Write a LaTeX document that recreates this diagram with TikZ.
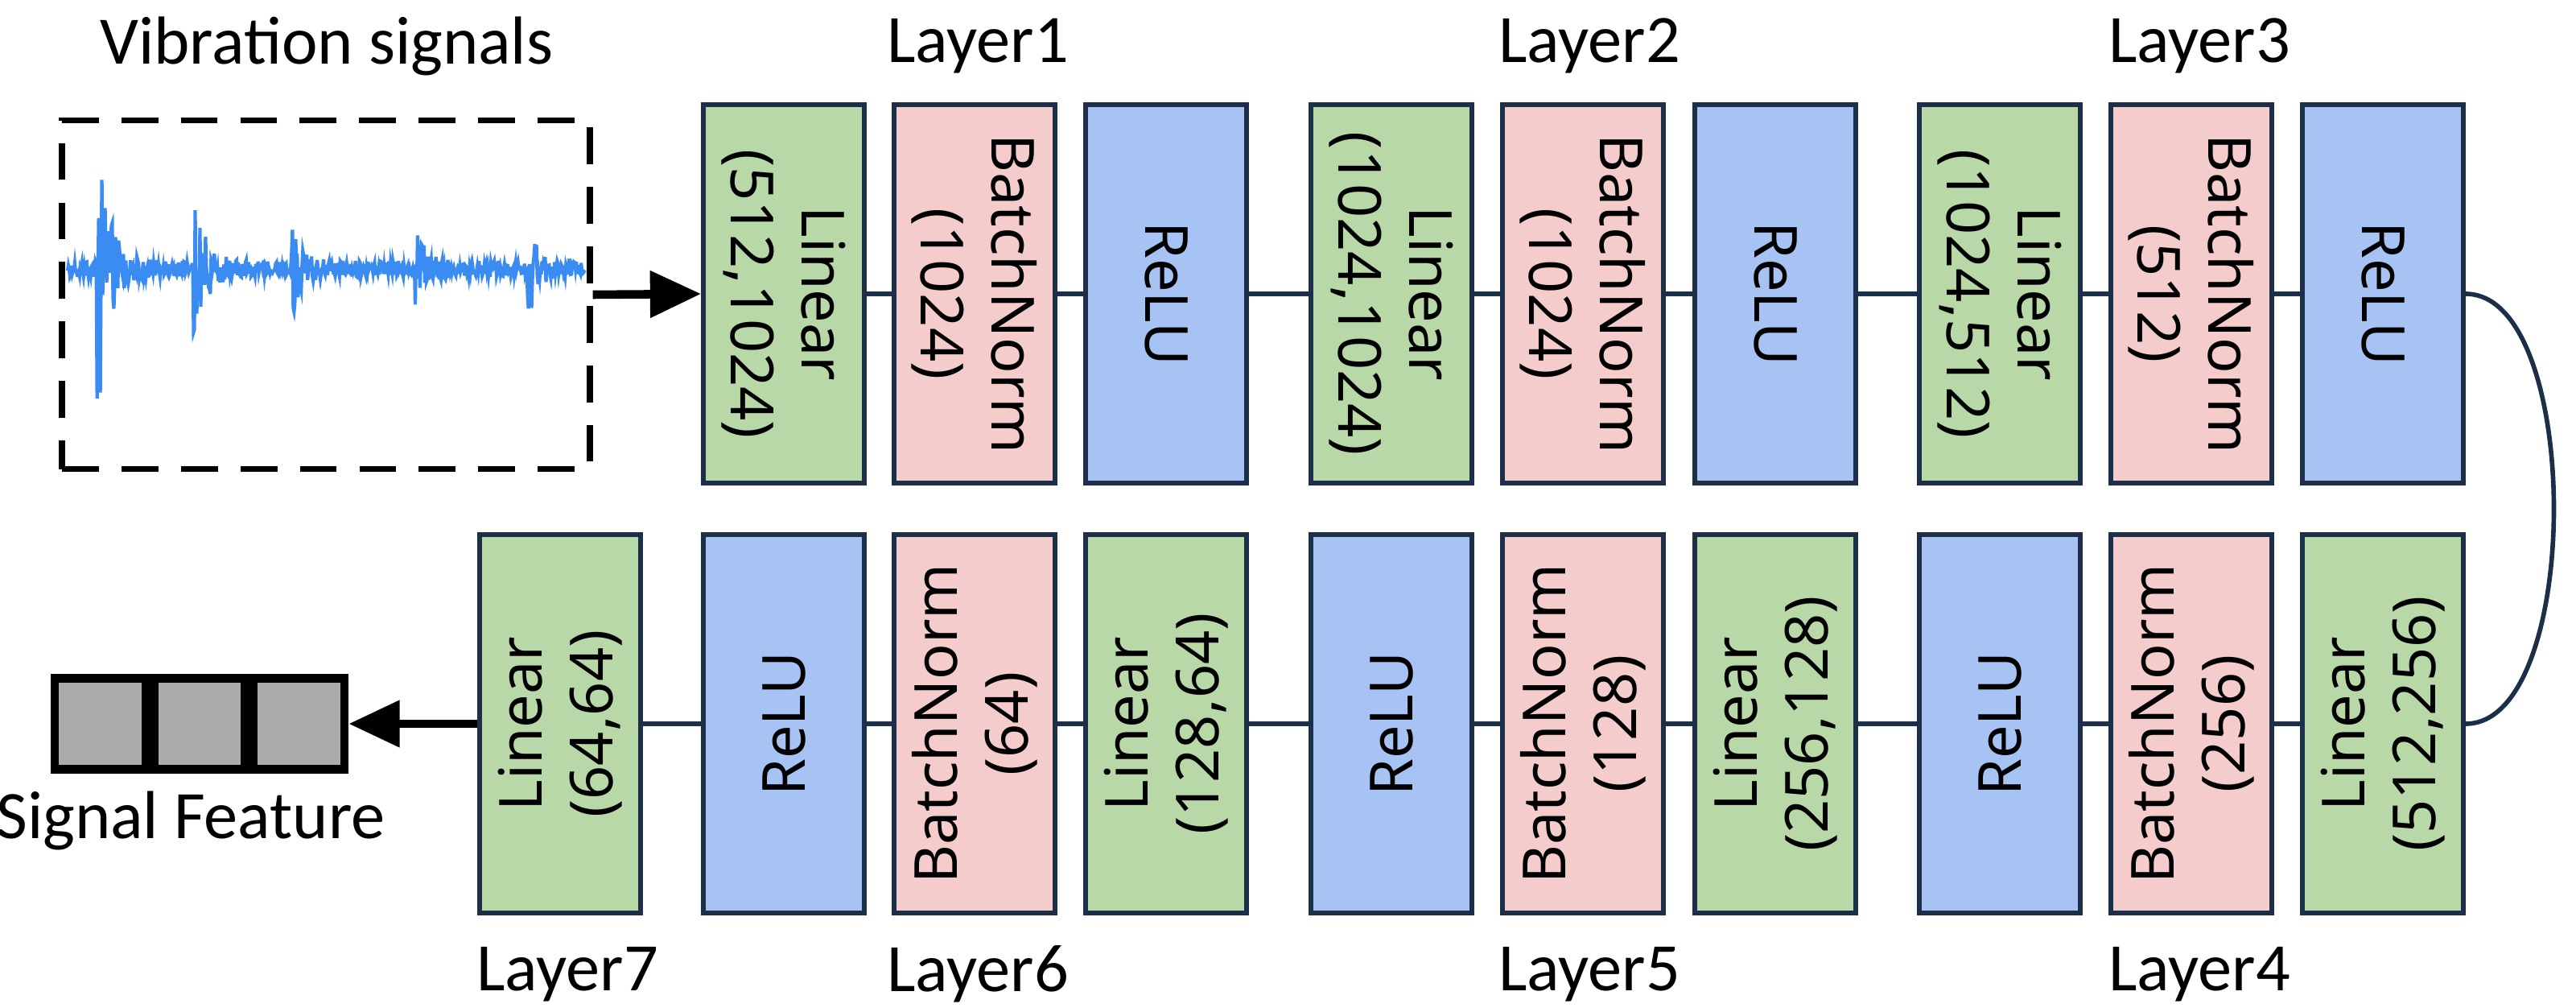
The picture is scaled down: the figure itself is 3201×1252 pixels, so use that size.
\documentclass[tikz,border=0pt]{standalone}
\usepackage{fontspec}
\setmainfont{Noto Sans}
\newfontfamily\lblfont{Carlito}
\usetikzlibrary{arrows.meta}
\definecolor{lin}{HTML}{B8D8A8}
\definecolor{bn}{HTML}{F3CCCB}
\definecolor{act}{HTML}{A6C3F3}
\definecolor{edge}{HTML}{1C2E48}
\definecolor{wave}{HTML}{3A8BF2}
\begin{document}
\begin{tikzpicture}
[x=0.01cm,y=-0.01cm,font=\fontsize{21}{25}\selectfont,
every node/.style={draw=edge,line width=1.6pt,minimum width=4.7cm,minimum height=2cm,inner sep=0pt,align=center},
up/.style={rotate=-90},
dn/.style={rotate=90},
lbl/.style={draw=none,minimum width=0pt,minimum height=0pt,font=\lblfont\fontsize{24}{28}\selectfont}]
\useasboundingbox (0,0) rectangle (3201,1252);
% top row
\node[fill=lin,up] (l1a) at (974,365) {Linear\\(512,1024)};
\node[fill=bn,up] (l1b) at (1211,365) {BatchNorm\\(1024)};
\node[fill=act,up] (l1c) at (1449,365) {ReLU};
\node[fill=lin,up] (l2a) at (1729,365) {Linear\\(1024,1024)};
\node[fill=bn,up] (l2b) at (1967,365) {BatchNorm\\(1024)};
\node[fill=act,up] (l2c) at (2206,365) {ReLU};
\node[fill=lin,up] (l3a) at (2485,365) {Linear\\(1024,512)};
\node[fill=bn,up] (l3b) at (2723,365) {BatchNorm\\(512)};
\node[fill=act,up] (l3c) at (2961,365) {ReLU};
% bottom row
\node[fill=lin,dn] (l4a) at (2961,899) {Linear\\(512,256)};
\node[fill=bn,dn] (l4b) at (2723,899) {BatchNorm\\(256)};
\node[fill=act,dn] (l4c) at (2485,899) {ReLU};
\node[fill=lin,dn] (l5a) at (2206,899) {Linear\\(256,128)};
\node[fill=bn,dn] (l5b) at (1967,899) {BatchNorm\\(128)};
\node[fill=act,dn] (l5c) at (1729,899) {ReLU};
\node[fill=lin,dn] (l6a) at (1449,899) {Linear\\(128,64)};
\node[fill=bn,dn] (l6b) at (1211,899) {BatchNorm\\(64)};
\node[fill=act,dn] (l6c) at (974,899) {ReLU};
\node[fill=lin,dn] (l7a) at (696,899) {Linear\\(64,64)};
% labels
\node[lbl] (t1) at (1215,57) {Layer1};
\node[lbl] (t2) at (1975,57) {Layer2};
\node[lbl] (t3) at (2733,57) {Layer3};
\node[lbl] (t4) at (2733,1210) {Layer4};
\node[lbl] (t5) at (1975,1210) {Layer5};
\node[lbl] (t6) at (1215,1210) {Layer6};
\node[lbl] (t7) at (705,1210) {Layer7};
\node[lbl] (tin) at (406,57) {Vibration signals};
\node[lbl] (tout) at (237,1019) {Signal Feature};
% input signal
\node[dash pattern=on 13pt off 8pt,line width=2.2pt,draw=black,minimum width=6.55cm,minimum height=4.33cm] (sig) at (405,366) {};
\pgfmathsetseed{7}
\draw[wave,line width=1.2pt] plot[domain=84:727,samples=650]
 (\x,{334+rand*(10+200*(\x>=120)*exp(-max(\x-120,0)/14)+80*(\x>=240)*exp(-max(\x-240,0)/16)
 +60*(\x>=362)*exp(-max(\x-362,0)/12)+45*(\x>=515)*exp(-max(\x-515,0)/14)+60*(\x>=655)*exp(-max(\x-655,0)/12))});
% output feature
\node[fill=black!33,draw=black,line width=3pt,minimum width=1.13cm,minimum height=1.13cm] (f2) at (248,899) {};
\node[fill=black!33,draw=black,line width=3pt,minimum width=1.13cm,minimum height=1.13cm,anchor=east] (f1) at (f2.west) {};
\node[fill=black!33,draw=black,line width=3pt,minimum width=1.13cm,minimum height=1.13cm,anchor=west] (f3) at (f2.east) {};
% connections
\foreach \from/\to in {l1a/l1b,l1b/l1c,l1c/l2a,l2a/l2b,l2b/l2c,l2c/l3a,l3a/l3b,l3b/l3c,
 l4a/l4b,l4b/l4c,l4c/l5a,l5a/l5b,l5b/l5c,l5c/l6a,l6a/l6b,l6b/l6c,l6c/l7a}
\draw[edge,line width=1.6pt] (\from) -- (\to);
\draw[edge,line width=1.6pt] (l3c.north) .. controls (3210,365) and (3210,899) .. (l4a.south);
\draw[-{Triangle[length=18pt,width=16pt]},line width=3pt] (sig.east) -- (l1a.south);
\draw[-{Triangle[length=18pt,width=16pt]},line width=3pt] (l7a.north) -- (f3.east);
\end{tikzpicture}
\end{document}
